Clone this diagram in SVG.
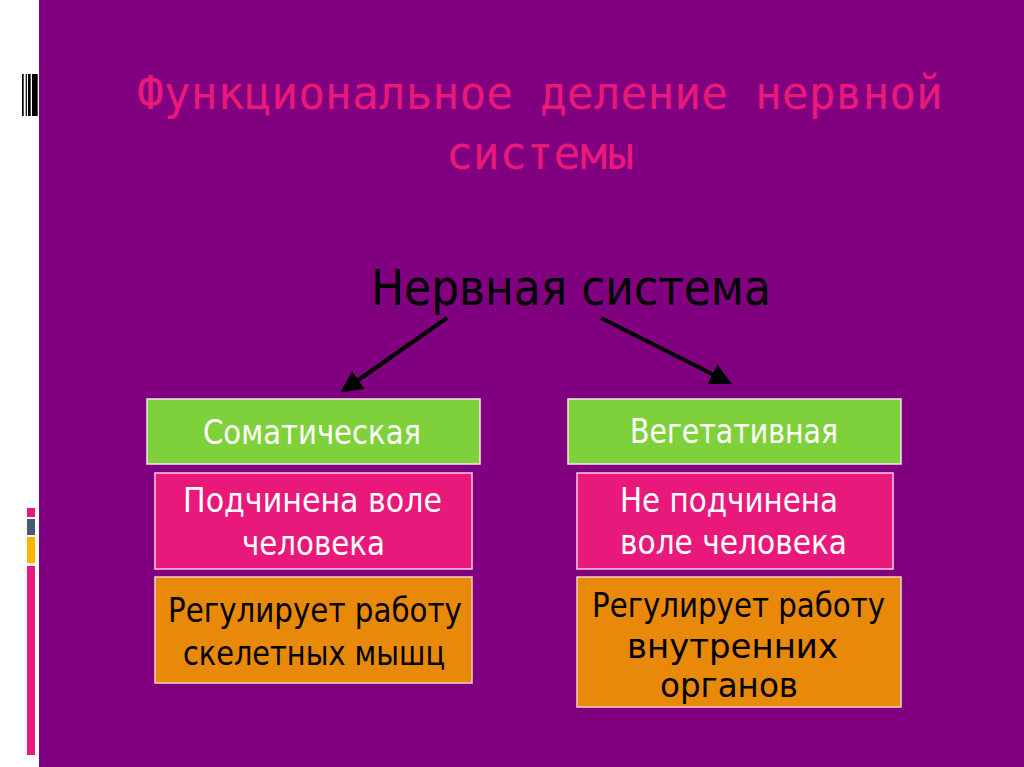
<svg xmlns="http://www.w3.org/2000/svg" width="1024" height="767" viewBox="0 0 1024 767">
  <defs>
    <style>
      .title { font-family: "DejaVu Sans Mono", "Liberation Mono", monospace; font-size: 47px; fill: #E9197A; }
      .main { font-family: "DejaVu Sans", "Liberation Sans", sans-serif; font-size: 49px; fill: #000000; }
      .lbl { font-family: "DejaVu Sans", "Liberation Sans", sans-serif; font-size: 33px; text-anchor: middle; }
      .white { fill: #ffffff; }
      .black { fill: #000000; }
      .green { fill: #7FD13B; stroke: #f3e6ee; stroke-width: 1.5; }
      .pink { fill: #E8197B; stroke: #f3d0e2; stroke-width: 1.5; }
      .orange { fill: #E8890A; stroke: #f3d0c8; stroke-width: 1.5; }
      .arrow { stroke: #000000; stroke-width: 4; fill: none; }
    </style>
    <marker id="ah" viewBox="0 0 10 10" refX="8" refY="5" markerWidth="5.5" markerHeight="5.5" orient="auto" markerUnits="strokeWidth">
      <path d="M0,0 L10,5 L0,10 Z" fill="#000000"/>
    </marker>
  </defs>

  <!-- background -->
  <rect x="0" y="0" width="1024" height="767" fill="#800080"/>
  <rect x="0" y="0" width="39" height="767" fill="#ffffff"/>
  <!-- barcode decoration -->
  <g id="barcode" fill="#000000">
    <rect x="22" y="74" width="1.7" height="42"/>
    <rect x="25.7" y="74" width="1.2" height="42"/>
    <rect x="28" y="74" width="2.7" height="42"/>
    <rect x="32" y="74" width="5.7" height="42"/>
  </g>
  <!-- side colour strips -->
  <g id="strips">
    <rect x="27" y="508" width="8" height="9" fill="#E8197B"/>
    <rect x="27" y="519" width="8" height="16" fill="#4A5A6E"/>
    <rect x="27" y="537" width="8" height="26" fill="#FFB300"/>
    <rect x="27" y="566" width="8" height="189" fill="#E8197B"/>
  </g>

  <!-- title -->
  <g id="title">
    <text class="title" x="137" y="109" textLength="806" lengthAdjust="spacingAndGlyphs">Функциональное деление нервной</text>
    <text class="title" x="446" y="169" textLength="188" lengthAdjust="spacingAndGlyphs">системы</text>
  </g>

  <!-- root node -->
  <g id="node-nervous-system">
    <text class="main" x="371" y="305" textLength="400" lengthAdjust="spacingAndGlyphs">Нервная система</text>
  </g>

  <!-- connectors -->
  <g id="connectors">
    <line class="arrow" x1="447" y1="318" x2="344" y2="390" marker-end="url(#ah)"/>
    <line class="arrow" x1="601" y1="318" x2="728" y2="382" marker-end="url(#ah)"/>
  </g>

  <!-- left column -->
  <g id="node-somatic">
    <rect class="green" x="147" y="399" width="333" height="65"/>
    <text class="lbl white" x="312" y="444" textLength="218" lengthAdjust="spacingAndGlyphs">Соматическая</text>
  </g>
  <g id="node-somatic-will">
    <rect class="pink" x="155" y="473" width="317" height="96"/>
    <text class="lbl white" x="312.5" y="512" textLength="259" lengthAdjust="spacingAndGlyphs">Подчинена воле</text>
    <text class="lbl white" x="313.5" y="555" textLength="143" lengthAdjust="spacingAndGlyphs">человека</text>
  </g>
  <g id="node-somatic-function">
    <rect class="orange" x="155" y="577" width="317" height="106"/>
    <text class="lbl black" x="315" y="622" textLength="294" lengthAdjust="spacingAndGlyphs">Регулирует работу</text>
    <text class="lbl black" x="314" y="665" textLength="262" lengthAdjust="spacingAndGlyphs">скелетных мышц</text>
  </g>

  <!-- right column -->
  <g id="node-vegetative">
    <rect class="green" x="568" y="399" width="333" height="65"/>
    <text class="lbl white" x="734" y="443" textLength="208" lengthAdjust="spacingAndGlyphs">Вегетативная</text>
  </g>
  <g id="node-vegetative-will">
    <rect class="pink" x="577" y="473" width="316" height="96"/>
    <text class="lbl white" x="729" y="512" textLength="218" lengthAdjust="spacingAndGlyphs">Не подчинена</text>
    <text class="lbl white" x="733.5" y="554" textLength="227" lengthAdjust="spacingAndGlyphs">воле человека</text>
  </g>
  <g id="node-vegetative-function">
    <rect class="orange" x="577" y="577" width="324" height="130"/>
    <text class="lbl black" x="738.5" y="617" textLength="293" lengthAdjust="spacingAndGlyphs">Регулирует работу</text>
    <text class="lbl black" x="732.5" y="658" textLength="211" lengthAdjust="spacingAndGlyphs">внутренних</text>
    <text class="lbl black" x="729" y="697" textLength="138" lengthAdjust="spacingAndGlyphs">органов</text>
  </g>
</svg>
